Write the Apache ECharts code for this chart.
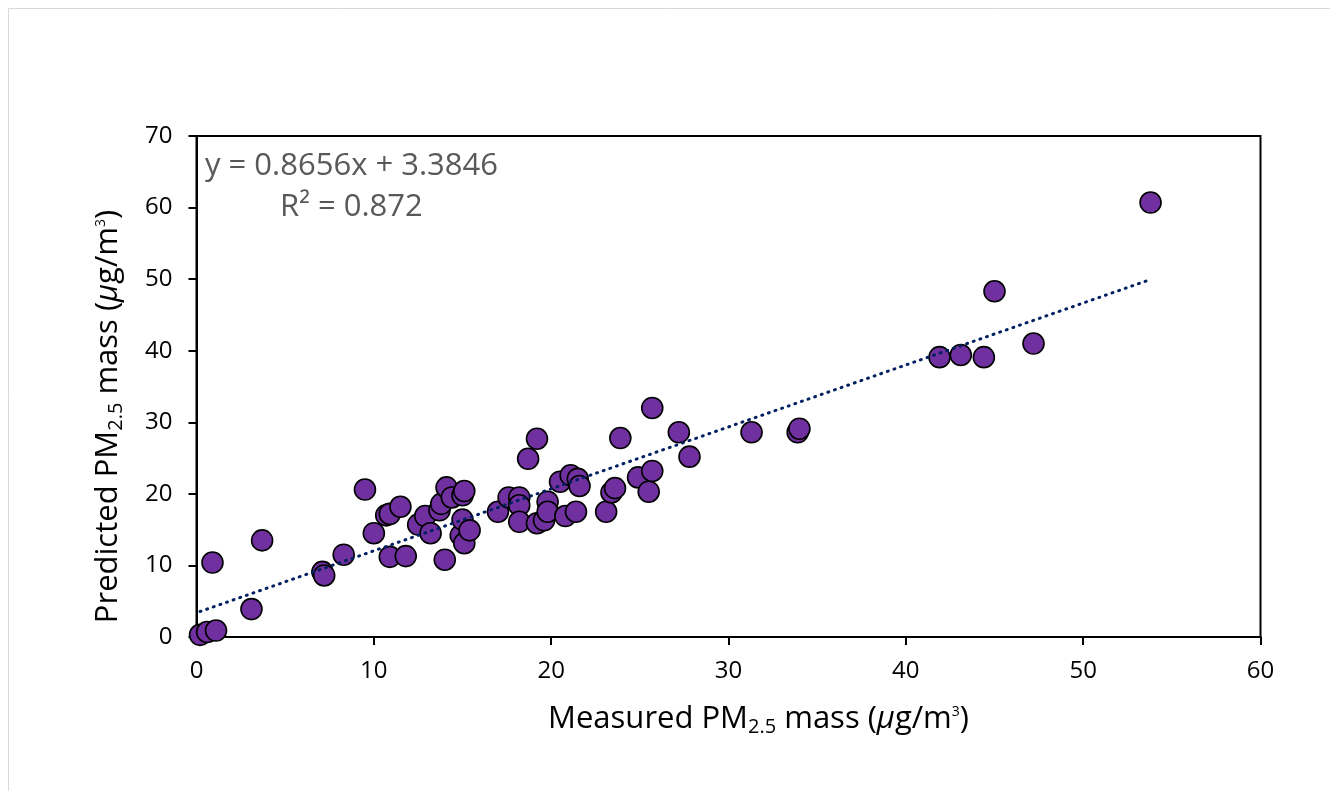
<!DOCTYPE html>
<html>
<head>
<meta charset="utf-8">
<script src="https://cdn.jsdelivr.net/npm/echarts@6/dist/echarts.min.js"></script>
<style>
  html, body { margin: 0; padding: 0; background: #fff; }
  #main { width: 1330px; height: 791px; }
</style>
</head>
<body>
<div id="main"></div>
<script>
// measured vs predicted PM2.5 (ug/m3)
var measured = [0.2, 0.6, 1.1, 0.9, 3.1, 3.7, 7.1, 7.2, 8.3, 9.5, 10.0, 10.7, 10.9, 10.9, 11.5, 11.8,
  12.5, 12.9, 13.2, 13.7, 13.8, 14.1, 14.0, 14.4, 14.9, 15.0, 15.1, 15.0, 15.1, 15.4,
  17.0, 17.6, 18.2, 18.2, 18.2, 18.7, 19.2, 19.2, 19.6, 19.8, 19.8, 20.5, 21.1, 21.5, 21.6,
  20.8, 21.4, 23.1, 23.4, 23.6, 23.9, 24.9, 25.5, 25.7, 25.7, 27.2, 27.8,
  31.3, 33.9, 34.0, 41.9, 43.1, 44.4, 45.0, 47.2, 53.8];
var predicted = [0.3, 0.7, 0.9, 10.4, 3.9, 13.5, 9.1, 8.6, 11.5, 20.6, 14.5, 17.0, 17.2, 11.2, 18.2, 11.3,
  15.7, 16.9, 14.5, 17.7, 18.6, 20.9, 10.8, 19.5, 14.2, 19.8, 20.4, 16.4, 13.1, 14.9,
  17.5, 19.5, 19.5, 18.4, 16.1, 24.9, 27.7, 15.9, 16.3, 18.9, 17.5, 21.7, 22.6, 22.1, 21.1,
  16.9, 17.5, 17.5, 20.2, 20.8, 27.8, 22.3, 20.3, 23.2, 32.0, 28.6, 25.2,
  28.6, 28.6, 29.1, 39.1, 39.4, 39.1, 48.3, 41.0, 60.7];
var xTicks = [0, 10, 20, 30, 40, 50, 60];
var yTicks = [0, 10, 20, 30, 40, 50, 60, 70];
var slope = 0.8656;
var intercept = 3.3846;
var eqText = 'y = 0.8656x + 3.3846';
var r2Text = 'R² = 0.872';

var points = measured.map(function (x, i) { return [x, predicted[i]]; });
var xmin = Math.min.apply(null, measured);
var xmax = Math.max.apply(null, measured);
var trend = [[xmin, slope * xmin + intercept], [xmax, slope * xmax + intercept]];

var font = '"Open Sans", "Noto Sans", sans-serif';

// axis title with subscript / small superscript
var titleRich = {
    a: { fontSize: 31, fontFamily: font, color: '#000' },
    i: { fontSize: 31, fontFamily: font, color: '#000', fontStyle: 'italic' },
    s: { fontSize: 20, fontFamily: font, color: '#000', padding: [16, 0, 0, 0] },
    p: { fontSize: 14, fontFamily: font, color: '#000', padding: [0, 0, 14, 0] }
};

var myChart = echarts.init(document.getElementById('main'));
myChart.setOption({
    animation: false,
    backgroundColor: '#fff',
    grid: {
        left: 196.5,
        right: 69.5,
        top: 136,
        bottom: 154,
        show: true,
        borderColor: '#000',
        borderWidth: 2
    },
    graphic: [
        { type: 'line', shape: { x1: 8.5, y1: 8.5, x2: 1330, y2: 8.5 }, style: { stroke: '#d9d9d9', lineWidth: 1 } },
        { type: 'line', shape: { x1: 8.5, y1: 8.5, x2: 8.5, y2: 791 }, style: { stroke: '#d9d9d9', lineWidth: 1 } },
        { type: 'text', left: 205, top: 151, style: { text: eqText, fill: '#595959', font: '31px ' + font } },
        { type: 'text', left: 280, top: 192, style: { text: r2Text, fill: '#595959', font: '31px ' + font } }
    ],
    xAxis: {
        type: 'value',
        min: xTicks[0],
        max: xTicks[xTicks.length - 1],
        interval: 10,
        name: '{a|Measured PM}{s|2.5}{a| mass (}{i|µ}{a|g/m}{p|3}{a|)}',
        nameLocation: 'middle',
        nameGap: 64,
        nameTextStyle: { rich: titleRich, padding: [0, 0, 0, 60] },
        axisLine: { show: true, lineStyle: { color: '#000', width: 2 } },
        axisTick: { show: true, length: 8, lineStyle: { color: '#000', width: 2 } },
        axisLabel: { color: '#000', fontSize: 24, fontFamily: font, margin: 22 },
        splitLine: { show: false }
    },
    yAxis: {
        type: 'value',
        min: yTicks[0],
        max: yTicks[yTicks.length - 1],
        interval: 10,
        name: '{a|Predicted PM}{s|2.5}{a| mass (}{i|µ}{a|g/m}{p|3}{a|)}',
        nameLocation: 'middle',
        nameGap: 70,
        nameRotate: 90,
        nameTextStyle: { rich: titleRich, padding: [0, 60, 0, 0] },
        axisLine: { show: true, lineStyle: { color: '#000', width: 2 } },
        axisTick: { show: true, length: 8, lineStyle: { color: '#000', width: 2 } },
        axisLabel: { color: '#000', fontSize: 24, fontFamily: font, margin: 24 },
        splitLine: { show: false }
    },
    series: [
        {
            type: 'scatter',
            data: points,
            symbol: 'circle',
            symbolSize: 21,
            itemStyle: { color: '#7030A0', borderColor: '#000', borderWidth: 1.6, opacity: 1 },
            z: 2
        },
        {
            type: 'line',
            data: trend,
            symbol: 'none',
            lineStyle: { color: '#002060', width: 3, type: [1, 6], cap: 'round' },
            z: 3
        }
    ]
});
</script>
</body>
</html>
